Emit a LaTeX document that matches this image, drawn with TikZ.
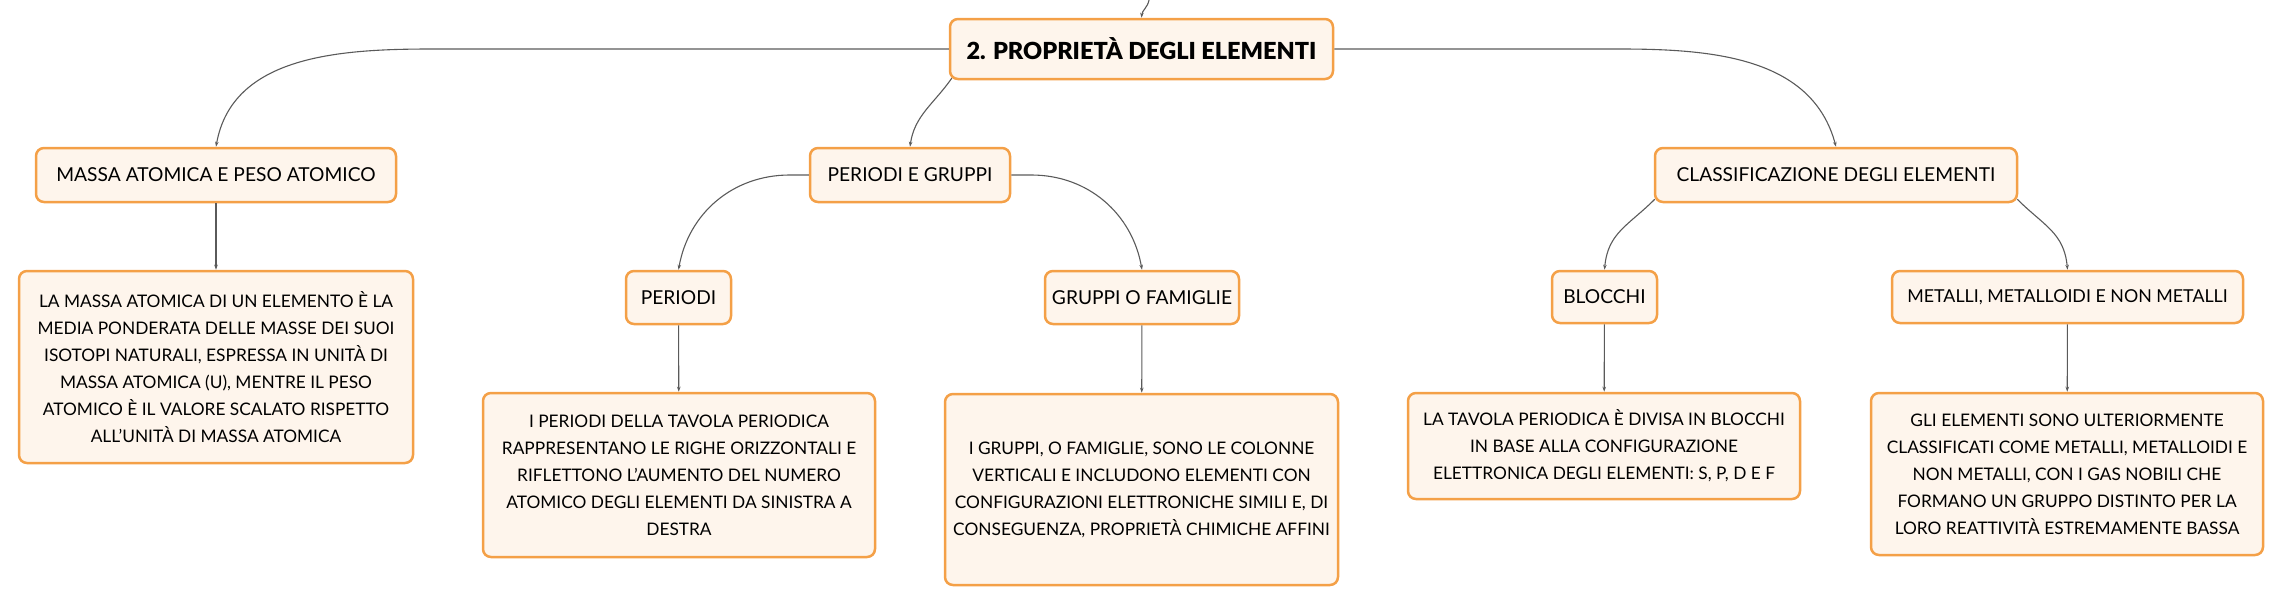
\documentclass[tikz,border=0pt]{standalone}
\usepackage{fontspec}
\setmainfont{Lato}
\newfontfamily\heavyfont{Lato Black}
\usepackage{tikz}
\usetikzlibrary{arrows.meta}
\definecolor{boxorange}{HTML}{F4A047}
\definecolor{boxfill}{HTML}{FEF5EC}
\definecolor{linegray}{HTML}{5A5A5A}
\tikzset{
    box/.style={draw=boxorange,fill=boxfill,line width=2.5pt,rounded corners=8pt,inner sep=0pt,align=center,font=\fontsize{17.3}{27}\selectfont},
    label box/.style={box,font=\fontsize{19.2}{27}\selectfont},
    link/.style={draw=linegray,line width=1.1pt,-{Stealth[length=5pt,width=3.5pt]}}
}

\begin{document}
\begin{tikzpicture}[x=1pt,y=1pt]
                            \useasboundingbox (0,0) rectangle (2284,-605);
                            \node[box,minimum width=383pt,minimum height=60pt,font=\fontsize{23.5}{27}\selectfont\heavyfont] (root) at (1141.5,-49) {2. PROPRIETÀ DEGLI ELEMENTI};
                            \node[label box,minimum width=360pt,minimum height=54pt] (massa) at (216,-175) {MASSA ATOMICA E PESO ATOMICO};
                            \node[label box,minimum width=200pt,minimum height=54pt] (pergru) at (910,-175) {PERIODI E GRUPPI};
                            \node[label box,minimum width=362pt,minimum height=54pt] (classi) at (1836,-175) {CLASSIFICAZIONE DEGLI ELEMENTI};
                            \node[label box,minimum width=105pt,minimum height=53pt] (periodi) at (678.5,-297.5) {PERIODI};
                            \node[label box,minimum width=194pt,minimum height=53pt] (gruppi) at (1142,-297.5) {GRUPPI O FAMIGLIE};
                            \node[label box,minimum width=105pt,minimum height=52pt] (blocchi) at (1604.5,-297) {BLOCCHI};
                            \node[label box,minimum width=351pt,minimum height=52pt,font=\fontsize{17.8}{27}\selectfont] (metalli) at (2067.5,-297) {METALLI, METALLOIDI E NON METALLI};
                            \node[box,minimum width=394pt,minimum height=192pt] (massatxt) at (216,-367) {LA MASSA ATOMICA DI UN ELEMENTO È LA\\MEDIA PONDERATA DELLE MASSE DEI SUOI\\ISOTOPI NATURALI, ESPRESSA IN UNITÀ DI\\MASSA ATOMICA (U), MENTRE IL PESO\\ATOMICO È IL VALORE SCALATO RISPETTO\\ALL'UNITÀ DI MASSA ATOMICA};
                            \node[box,minimum width=392pt,minimum height=164pt] (periodtxt) at (679,-475) {I PERIODI DELLA TAVOLA PERIODICA\\RAPPRESENTANO LE RIGHE ORIZZONTALI E\\RIFLETTONO L'AUMENTO DEL NUMERO\\ATOMICO DEGLI ELEMENTI DA SINISTRA A\\DESTRA};
                            \node[box,minimum width=393pt,minimum height=191pt] (gruppitxt) at (1141.5,-489.5) {I GRUPPI, O FAMIGLIE, SONO LE COLONNE\\VERTICALI E INCLUDONO ELEMENTI CON\\CONFIGURAZIONI ELETTRONICHE SIMILI E, DI\\CONSEGUENZA, PROPRIETÀ CHIMICHE AFFINI};
                            \node[box,minimum width=392pt,minimum height=106pt] (blocchitxt) at (1604,-446) {LA TAVOLA PERIODICA È DIVISA IN BLOCCHI\\IN BASE ALLA CONFIGURAZIONE\\ELETTRONICA DEGLI ELEMENTI: S, P, D E F};
                            \node[box,minimum width=392pt,minimum height=162pt] (metallitxt) at (2067,-474) {GLI ELEMENTI SONO ULTERIORMENTE\\CLASSIFICATI COME METALLI, METALLOIDI E\\NON METALLI, CON I GAS NOBILI CHE\\FORMANO UN GRUPPO DISTINTO PER LA\\LORO REATTIVITÀ ESTREMAMENTE BASSA};
                            \coordinate (up) at (1149,0);
                            \draw[link] (up) to[out=-100,in=85] (root.north);
                            \draw[link] (root.west) -- ++(-516,0) to[out=180,in=80] (massa.north);
                            \draw[link] (root.east) -- ++(285,0) to[out=0,in=105] (classi.north);
                            \draw[link] ([xshift=3pt,yshift=2pt]root.south west) to[out=235,in=82] (pergru.north);
                            \draw[link] (pergru.west) -- ++(-19,0) to[out=180,in=80] (periodi.north);
                            \draw[link] (pergru.east) -- ++(20,0) to[out=0,in=100] (gruppi.north);
                            \draw[link] ([xshift=1pt,yshift=4pt]classi.south west) to[out=225,in=85,looseness=1.1] (blocchi.north);
                            \draw[link] ([xshift=-1pt,yshift=4pt]classi.south east) to[out=-45,in=95,looseness=1.1] (metalli.north);
                            \draw[link] (massa) -- (massatxt);
                            \draw[link] (periodi) -- (periodtxt);
                            \draw[link] (gruppi) -- (gruppitxt);
                            \draw[link] (blocchi) -- (blocchitxt);
                            \draw[link] (metalli) -- (metallitxt);
                        \end{tikzpicture}
\end{document}
